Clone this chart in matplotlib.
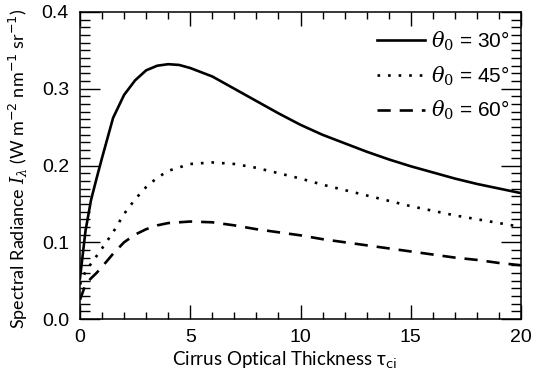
import matplotlib
matplotlib.use("Agg")
import matplotlib.pyplot as plt
from matplotlib.ticker import MultipleLocator
import numpy as np

# Data
tau_30 = [0, 0.25, 0.5, 0.75, 1, 1.5, 2, 2.5, 3, 3.5, 4, 4.5, 5, 6, 7, 8, 9, 10,
          11, 12, 13, 14, 15, 16, 17, 18, 19, 20]
rad_30 = [0.053, 0.115, 0.155, 0.183, 0.21, 0.262, 0.292, 0.311, 0.324, 0.330,
          0.332, 0.331, 0.327, 0.316, 0.300, 0.284, 0.268, 0.253, 0.240, 0.229,
          0.218, 0.208, 0.199, 0.191, 0.183, 0.176, 0.170, 0.164]

tau_45 = [0, 0.25, 0.5, 0.75, 1, 1.5, 2, 2.5, 3, 3.5, 4, 5, 6, 7, 8, 9, 10,
          11, 12, 13, 14, 15, 16, 17, 18, 19, 20]
rad_45 = [0.045, 0.062, 0.072, 0.082, 0.092, 0.113, 0.137, 0.156, 0.172, 0.184,
          0.193, 0.202, 0.204, 0.202, 0.197, 0.190, 0.183, 0.175, 0.168, 0.161,
          0.154, 0.147, 0.141, 0.135, 0.130, 0.125, 0.120]

tau_60 = [0, 0.25, 0.5, 0.75, 1, 1.5, 2, 2.5, 3, 3.5, 4, 5, 6, 7, 8, 9, 10,
          11, 12, 13, 14, 15, 16, 17, 18, 19, 20]
rad_60 = [0.025, 0.045, 0.053, 0.060, 0.068, 0.085, 0.100, 0.110, 0.117, 0.122,
          0.125, 0.127, 0.126, 0.122, 0.117, 0.113, 0.109, 0.104, 0.100, 0.096,
          0.092, 0.088, 0.084, 0.080, 0.077, 0.073, 0.070]

labels = [r"$\theta_0$ = 30°", r"$\theta_0$ = 45°", r"$\theta_0$ = 60°"]

x_ticks = [0, 5, 10, 15, 20]
y_ticks = [0.0, 0.1, 0.2, 0.3, 0.4]

plt.rcParams["mathtext.fontset"] = "dejavuserif"
plt.rcParams["font.family"] = ["Liberation Sans", "DejaVu Sans"]

fig = plt.figure(figsize=(5.35, 3.78), dpi=100)
ax = fig.add_axes([80 / 535, 1 - 319 / 378, 441 / 535, 307 / 378])

lw = 1.9
ax.plot(tau_30, rad_30, color="black", lw=lw, linestyle="-", label=labels[0])
ax.plot(tau_45, rad_45, color="black", lw=lw, linestyle=(0, (1.0, 3.0)),
        label=labels[1])
ax.plot(tau_60, rad_60, color="black", lw=lw, linestyle=(0, (5.0, 3.4)),
        label=labels[2])

ax.set_xlim(0, 20)
ax.set_ylim(0, 0.4)
ax.set_xticks(x_ticks)
ax.set_yticks(y_ticks)
ax.set_xticklabels([str(v) for v in x_ticks])
ax.set_yticklabels([f"{v:.1f}" for v in y_ticks])
ax.xaxis.set_minor_locator(MultipleLocator(1))
ax.yaxis.set_minor_locator(MultipleLocator(0.01))

for s in ax.spines.values():
    s.set_linewidth(1.1)

ax.tick_params(axis="x", which="major", direction="in", length=10, width=1.0,
               top=True, labelsize=14, pad=7)
ax.tick_params(axis="x", which="minor", direction="in", length=5, width=1.0,
               top=True)
ax.tick_params(axis="y", which="major", direction="in", length=14.5, width=1.0,
               right=True, labelsize=14, pad=8)
ax.tick_params(axis="y", which="minor", direction="in", length=7.2, width=1.0,
               right=True)

ax.set_xlabel(r"Cirrus Optical Thickness τ$_{\mathsf{ci}}$", family="Lato",
              fontsize=13.5)
ax.xaxis.set_label_coords(0.4626, -0.098)
ax.set_ylabel(r"Spectral Radiance $I_\lambda$ (W m$^{\mathsf{-2}}$ nm$^{\mathsf{-1}}$ sr$^{\mathsf{-1}}$)",
              family="Lato", fontsize=13)
ax.yaxis.set_label_coords(-0.113, 0.489)

leg = ax.legend(loc="upper left", bbox_to_anchor=(0.655, 0.97), frameon=False,
                fontsize=15, handlelength=2.3, handletextpad=0.3,
                labelspacing=0.55, borderaxespad=0)

fig.savefig("out.png", dpi=100)
